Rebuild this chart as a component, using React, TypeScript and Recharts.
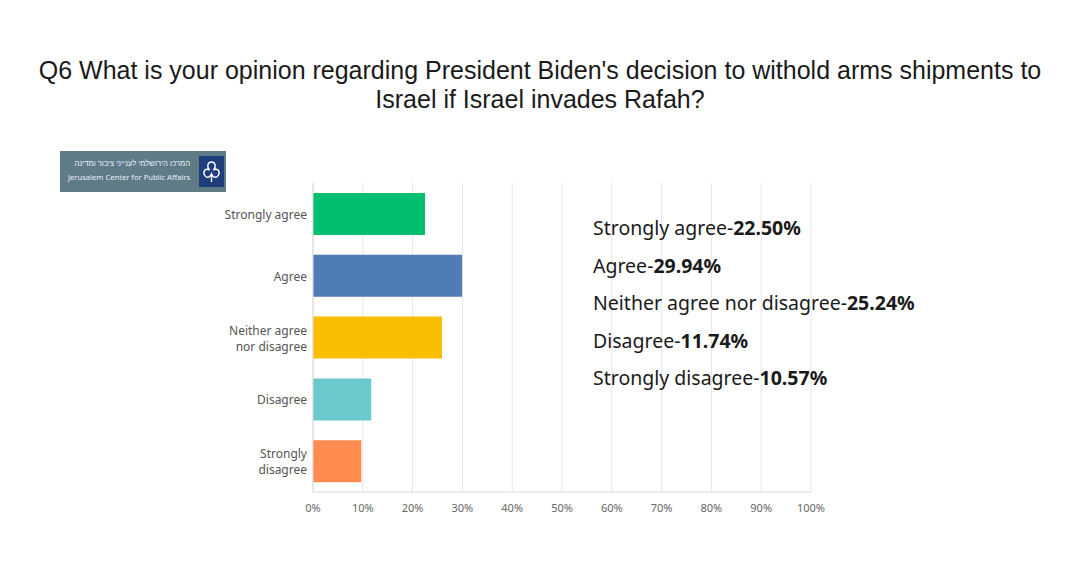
import React from 'react';
import { BarChart, Bar, XAxis, YAxis, CartesianGrid, Cell } from 'recharts';

const categories = ['Strongly agree', 'Agree', 'Neither agree nor disagree', 'Disagree', 'Strongly disagree'];
const tickLabelLines = [['Strongly agree'], ['Agree'], ['Neither agree', 'nor disagree'], ['Disagree'], ['Strongly', 'disagree']];
const barValues = [22.5, 29.94, 25.9, 11.7, 9.7];
const statedPercents = ['22.50%', '29.94%', '25.24%', '11.74%', '10.57%'];
const barColors = ['#00BF6F', '#507CB6', '#F9BE00', '#6BC8CD', '#FF8B4F'];
const xTicks = [0, 10, 20, 30, 40, 50, 60, 70, 80, 90, 100];

const title1 = "Q6 What is your opinion regarding President Biden's decision to withold arms shipments to";
const title2 = 'Israel if Israel invades Rafah?';

const data = categories.map((c, i) => ({ name: c, idx: i, value: barValues[i] }));

const YTick = (props: any) => {
  const { x, y, payload } = props;
  const lines = tickLabelLines[payload.index] || [payload.value];
  const lh = 16;
  const start = y - ((lines.length - 1) * lh) / 2;
  return (
    <text x={x} y={start} textAnchor="end" fill="#555" fontSize={12} fontFamily="'Noto Sans', sans-serif" dominantBaseline="central">
      {lines.map((l: string, i: number) => (
        <tspan key={i} x={x} y={start + i * lh} dominantBaseline="central">{l}</tspan>
      ))}
    </text>
  );
};

export default function App() {
  return (
    <div style={{ position: 'absolute', left: 0, top: 0, width: 1080, height: 588, background: '#fff', overflow: 'hidden' }}>
      <div style={{ position: 'absolute', left: 0, top: 56, width: 1080, textAlign: 'center', fontFamily: "'Liberation Sans', Arial, sans-serif", fontSize: 25, lineHeight: '29px', color: '#1a1a1a', whiteSpace: 'nowrap' }}>
        <div>{title1}</div>
        <div>{title2}</div>
      </div>
      <div style={{ position: 'absolute', left: 60, top: 151, width: 166, height: 41, background: '#5E7B86' }}>
        <div style={{ position: 'absolute', right: 36, top: 7, fontSize: 7.6, color: '#eef', fontFamily: "'Noto Sans', sans-serif", direction: 'rtl', whiteSpace: 'nowrap' }}>המרכז הירושלמי לענייני ציבור ומדינה</div>
        <div style={{ position: 'absolute', left: 8, top: 21, fontSize: 7.6, color: '#eef', fontFamily: "'Noto Sans', sans-serif", whiteSpace: 'nowrap' }}>Jerusalem Center for Public Affairs</div>
        <div style={{ position: 'absolute', left: 139, top: 5, width: 25, height: 31, background: '#1E3F7C' }}>
          <svg width={25} height={31} viewBox="0 0 25 31">
            <path d="M12.5 6 C8.5 6 7.5 11 10.5 14 C6.5 12 3.5 15 5.5 19 C7.5 23 11.5 21 12.5 18 C13.5 21 17.5 23 19.5 19 C21.5 15 18.5 12 14.5 14 C17.5 11 16.5 6 12.5 6 Z" fill="none" stroke="#fff" strokeWidth={1.4} />
            <path d="M12.5 18 L12.5 26" stroke="#fff" strokeWidth={1.4} />
          </svg>
        </div>
      </div>
      <div style={{ position: 'absolute', left: 0, top: 0 }}>
        <BarChart
          layout="vertical"
          width={1080}
          height={588}
          data={data}
          margin={{ top: 183, right: 269, bottom: 66, left: 213 }}
          barCategoryGap={10}
        >
          <CartesianGrid horizontal={false} stroke="#E6E6E6" />
          <XAxis
            type="number"
            domain={[0, 100]}
            ticks={xTicks}
            tickFormatter={(v: number) => `${v}%`}
            axisLine={{ stroke: '#D9D9D9' }}
            tickLine={false}
            tickMargin={6}
            height={30}
            tick={{ fill: '#666', fontSize: 11, fontFamily: "'Noto Sans', sans-serif" }}
          />
          <YAxis
            type="category"
            dataKey="name"
            width={100}
            axisLine={{ stroke: '#D9D9D9' }}
            tickLine={false}
            tickMargin={0}
            tick={<YTick />}
            interval={0}
          />
          <Bar dataKey="value" isAnimationActive={false}>
            {data.map((d, i) => (
              <Cell key={i} fill={barColors[i]} />
            ))}
          </Bar>
        </BarChart>
      </div>
      {categories.map((c, i) => (
        <div key={c} style={{ position: 'absolute', left: 593, top: 216 + i * 37.5, fontFamily: "'Noto Sans', sans-serif", fontSize: 19.5, color: '#1a1a1a', whiteSpace: 'nowrap', lineHeight: '24px' }}>
          {c}-<b>{statedPercents[i]}</b>
        </div>
      ))}
    </div>
  );
}
